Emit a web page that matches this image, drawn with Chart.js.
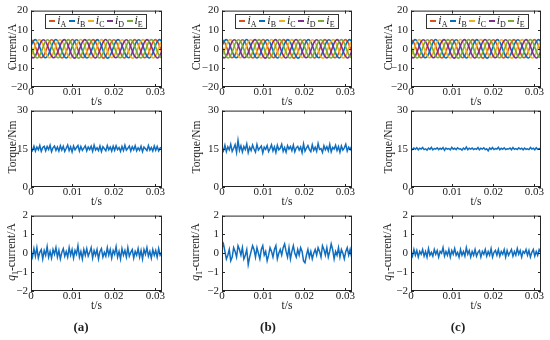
<!DOCTYPE html>
<html>
<head>
<meta charset="utf-8">
<script src="https://cdn.jsdelivr.net/npm/chart.js@4.4.0/dist/chart.umd.min.js"></script>
<style>
  body { margin:0; width:550px; height:340px; background:#fff; position:relative; overflow:hidden;
         font-family:'Liberation Serif','Times New Roman',serif; color:#222; }
  canvas, .lbl, .legend { position:absolute; }
  .lbl { font-size:11.5px; white-space:nowrap; line-height:1; }
  .ytitle { transform: translate(-50%,-50%) rotate(-90deg); }
  .xtitle { transform: translate(-50%,-50%); }
  .lbl sub { font-size:8px; }
  .legend { border:1px solid #333; background:#fff; font-size:12px; display:flex; align-items:center;
            justify-content:space-around; box-sizing:border-box; padding:0 2px; line-height:1; }
  .legend .sw { display:inline-block; width:6px; height:2px; margin-right:2px; vertical-align:middle; }
  .legend sub { font-size:8px; }
  .panel { font-size:13px; font-weight:bold; transform: translate(-50%,-50%); }
</style>
</head>
<body>
<script>
// ---- data ----
const phaseNames = ['A', 'B', 'C', 'D', 'E'];
const phaseColors = ['#D95319', '#0072BD', '#EDB120', '#7E2F8E', '#77AC30'];
const currentStep = 0.0005; // s between current samples
const xMax = 0.0316;

const iA = [4.8, 3.9, 1.5, -1.4, -3.9, -4.7, -3.8, -1.5, 1.4, 3.9,
            4.7, 3.8, 1.4, -1.5, -3.9, -4.8, -3.9, -1.4, 1.5, 3.8,
            4.9, 3.9, 1.5, -1.5, -3.8, -4.7, -3.9, -1.5, 1.4, 3.9,
            4.8, 3.8, 1.4, -1.4, -3.9, -4.9, -3.8, -1.5, 1.5, 3.9,
            4.7, 3.9, 1.5, -1.5, -3.8, -4.8, -3.9, -1.4, 1.4, 3.8,
            4.8, 3.9, 1.4, -1.5, -3.9, -4.7, -3.8, -1.5, 1.5, 3.9,
            4.8, 3.8, 1.5, -1.4];
const iB = [1.5, 3.8, 4.8, 3.9, 1.4, -1.5, -3.9, -4.7, -3.8, -1.5,
            1.4, 3.9, 4.9, 3.8, 1.5, -1.4, -3.8, -4.8, -3.9, -1.5,
            1.5, 3.9, 4.7, 3.9, 1.5, -1.5, -3.9, -4.8, -3.8, -1.4,
            1.5, 3.8, 4.8, 3.8, 1.4, -1.5, -3.9, -4.9, -3.9, -1.5,
            1.4, 3.9, 4.8, 3.9, 1.5, -1.4, -3.8, -4.7, -3.9, -1.5,
            1.5, 3.9, 4.7, 3.8, 1.5, -1.5, -3.9, -4.8, -3.8, -1.4,
            1.5, 3.9, 4.8, 3.9];
const iC = [-3.9, -1.4, 1.5, 3.9, 4.8, 3.8, 1.5, -1.5, -3.9, -4.7,
            -3.8, -1.5, 1.4, 3.9, 4.7, 3.9, 1.5, -1.4, -3.8, -4.8,
            -3.9, -1.5, 1.5, 3.8, 4.9, 3.9, 1.4, -1.5, -3.9, -4.8,
            -3.9, -1.4, 1.5, 3.9, 4.8, 3.8, 1.5, -1.5, -3.8, -4.7,
            -3.8, -1.5, 1.4, 3.9, 4.7, 3.9, 1.5, -1.4, -3.9, -4.9,
            -3.9, -1.5, 1.5, 3.8, 4.8, 3.9, 1.4, -1.5, -3.9, -4.8,
            -3.8, -1.5, 1.5, 3.9];
const iD = [-3.8, -4.8, -3.9, -1.5, 1.4, 3.9, 4.7, 3.9, 1.5, -1.4,
            -3.9, -4.7, -3.8, -1.4, 1.5, 3.8, 4.8, 3.9, 1.4, -1.5,
            -3.9, -4.9, -3.9, -1.5, 1.5, 3.9, 4.8, 3.8, 1.5, -1.5,
            -3.8, -4.8, -3.9, -1.4, 1.4, 3.9, 4.9, 3.9, 1.5, -1.4,
            -3.9, -4.7, -3.8, -1.5, 1.5, 3.8, 4.7, 3.9, 1.4, -1.5,
            -3.9, -4.8, -3.9, -1.5, 1.5, 3.9, 4.8, 3.8, 1.5, -1.5,
            -3.8, -4.8, -3.9, -1.4];
const iE = [1.4, -1.5, -3.9, -4.8, -3.8, -1.5, 1.5, 3.9, 4.7, 3.9,
            1.5, -1.4, -3.8, -4.7, -3.9, -1.5, 1.4, 3.8, 4.8, 3.8,
            1.5, -1.5, -3.9, -4.9, -3.9, -1.4, 1.5, 3.9, 4.8, 3.9,
            1.4, -1.5, -3.8, -4.8, -3.8, -1.5, 1.5, 3.9, 4.9, 3.8,
            1.5, -1.4, -3.9, -4.7, -3.9, -1.5, 1.4, 3.8, 4.7, 3.9,
            1.5, -1.5, -3.9, -4.8, -3.8, -1.5, 1.5, 3.9, 4.8, 3.9,
            1.4, -1.5, -3.8, -4.8];
const phaseCurrents = [iA, iB, iC, iD, iE];

const torqueA = [15.2, 14.3, 16.0, 14.1, 15.7, 14.6, 16.3, 14.0, 15.5, 16.0,
                 14.2, 15.9, 14.7, 16.4, 13.9, 15.4, 16.1, 14.4, 15.7, 14.1,
                 16.2, 14.5, 16.0, 14.0, 15.2, 16.5, 14.3, 15.8, 13.8, 16.1,
                 14.6, 15.5, 16.3, 14.1, 15.9, 14.4, 15.3, 16.2, 14.2, 15.7,
                 14.7, 16.0, 14.0, 16.4, 14.5, 15.4, 14.3, 16.1, 13.9, 15.8,
                 15.0, 14.2, 16.3, 14.6, 15.7, 14.1, 16.0, 14.4, 16.2, 14.7,
                 15.5, 14.0, 15.9, 14.3, 16.4, 14.5, 15.2, 16.1, 14.1, 15.8,
                 14.6, 16.2, 14.2, 15.4, 14.4, 16.0, 13.9, 15.7, 15.0, 14.3,
                 16.3, 14.5, 15.5, 14.1, 16.1, 14.4, 15.9, 14.2, 15.3, 15.6];
const torqueB = [15.5, 14.2, 16.4, 13.9, 15.8, 14.6, 16.8, 14.0, 15.2, 16.6,
                 13.6, 18.3, 14.4, 16.2, 13.8, 15.9, 14.7, 16.9, 13.5, 15.6,
                 14.3, 16.5, 14.9, 13.7, 16.7, 14.5, 15.3, 16.1, 13.4, 15.7,
                 14.8, 16.3, 13.9, 15.1, 16.6, 14.2, 15.8, 13.6, 16.4, 14.6,
                 15.2, 16.8, 14.0, 15.5, 13.7, 16.2, 14.9, 15.9, 14.3, 16.5,
                 13.8, 15.4, 16.0, 14.5, 15.7, 13.5, 16.9, 14.1, 15.3, 16.3,
                 14.7, 13.9, 16.6, 14.4, 15.6, 14.0, 17.1, 14.8, 15.1, 13.6,
                 16.2, 14.6, 15.8, 14.2, 16.7, 13.8, 15.5, 14.9, 16.4, 14.3,
                 15.9, 13.7, 16.1, 14.5, 15.4, 16.8, 14.1, 15.6, 14.7, 16.0];
const torqueC = [15.1, 14.7, 15.3, 14.8, 15.4, 14.6, 15.2, 14.9, 15.5, 14.7,
                 15.0, 14.5, 15.3, 14.8, 15.6, 14.6, 15.1, 14.9, 15.4, 14.7,
                 15.2, 14.8, 15.5, 14.4, 15.3, 14.9, 15.1, 14.6, 15.6, 14.8,
                 15.2, 14.7, 15.4, 14.9, 15.0, 14.5, 15.3, 14.8, 15.7, 14.6,
                 15.2, 14.9, 15.3, 14.7, 15.1, 14.8, 15.5, 14.6, 15.2, 14.9,
                 15.4, 14.7, 15.0, 14.2, 15.3, 14.8, 15.5, 14.7, 15.1, 14.9,
                 15.6, 14.6, 15.2, 14.8, 15.4, 14.7, 15.0, 14.9, 15.3, 14.6,
                 15.5, 14.8, 15.1, 14.7, 15.4, 14.9, 15.2, 14.6, 15.3, 14.8,
                 15.0, 14.7, 15.5, 14.9, 15.2, 14.6, 15.4, 14.8, 15.1, 15.0];

const qCurrentA = [0.1, -0.2, 0.25, -0.15, 0.3, -0.25, 0.05, 0.2, -0.3, 0.15,
                   -0.1, 0.35, -0.2, 0.1, -0.25, 0.2, -0.05, 0.3, -0.2, 0.15,
                   -0.3, 0.05, 0.25, -0.15, 0.1, -0.2, 0.3, -0.1, 0.2, -0.25,
                   0.15, -0.05, 0.4, -0.2, 0.1, -0.3, 0.2, -0.1, 0.25, -0.15,
                   0.05, 0.3, -0.25, 0.15, -0.1, 0.2, -0.3, 0.1, 0.25, -0.2,
                   0.05, -0.15, 0.3, -0.1, 0.2, -0.25, 0.15, -0.05, 0.35, -0.2,
                   0.1, -0.3, 0.25, -0.1, 0.15, -0.2, 0.3, -0.15, 0.05, 0.2,
                   -0.25, 0.1, -0.1, 0.25, -0.2, 0.15, -0.3, 0.2, -0.05, 0.3,
                   -0.15, 0.1, -0.25, 0.2, -0.1, 0.15, -0.2, 0.25, -0.1, 0.05];
const qCurrentB = [0.3, 0.5, 0.1, -0.3, -0.1, 0.2, -0.4, -0.2, 0.3, 0.1,
                   -0.2, 0.4, 0.2, -0.1, 0.3, -0.3, -0.1, 0.2, -0.6, -0.2,
                   0.1, 0.4, 0.2, -0.2, 0.3, 0.0, -0.3, 0.2, 0.4, -0.1,
                   0.1, -0.4, -0.1, 0.3, 0.1, -0.2, 0.2, 0.4, -0.3, 0.0,
                   0.2, -0.1, 0.3, 0.5, 0.1, -0.2, 0.3, -0.3, 0.1, 0.4,
                   0.0, -0.2, 0.2, -0.1, 0.3, 0.1, -0.4, -0.5, -0.1, 0.2,
                   -0.2, 0.1, -0.3, 0.0, 0.2, -0.1, 0.3, 0.1, -0.2, 0.4,
                   0.2, -0.1, 0.3, -0.2, 0.1, 0.5, 0.2, -0.3, 0.1, -0.1,
                   0.3, -0.2, 0.2, 0.0, -0.3, 0.1, 0.3, -0.1, 0.2, -0.2];
const qCurrentC = [0.05, -0.15, 0.2, -0.1, 0.15, -0.2, 0.1, -0.05, 0.2, -0.15,
                   0.1, -0.2, 0.25, -0.1, 0.05, -0.15, 0.2, -0.05, 0.15, -0.2,
                   0.1, 0.0, 0.3, -0.15, 0.1, -0.1, 0.2, -0.2, 0.15, -0.05,
                   0.25, -0.1, 0.05, -0.2, 0.2, -0.1, 0.1, -0.15, 0.3, -0.05,
                   0.15, -0.2, 0.1, -0.1, 0.2, -0.15, 0.05, 0.15, -0.2, 0.1,
                   -0.05, 0.2, -0.15, 0.1, -0.1, 0.25, -0.2, 0.05, 0.15, -0.1,
                   0.2, -0.15, 0.1, -0.05, 0.2, -0.2, 0.15, -0.1, 0.05, 0.2,
                   -0.15, 0.1, -0.1, 0.25, -0.05, 0.15, -0.2, 0.1, 0.0, 0.2,
                   -0.1, 0.15, -0.2, 0.05, 0.2, -0.15, 0.1, -0.1, 0.2, 0.05];

const xTicks = [0, 0.01, 0.02, 0.03];
const currentTicks = [-20, -10, 0, 10, 20];
const torqueTicks = [0, 15, 30];
const qTicks = [-2, -1, 0, 1, 2];
const panelNames = ['(a)', '(b)', '(c)'];
const torqueSets = [torqueA, torqueB, torqueC];
const qSets = [qCurrentA, qCurrentB, qCurrentC];

// ---- layout (plot boxes in page pixels) ----
const cols = [{ l: 31, r: 162, yt: 13, mid: 81 }, { l: 222, r: 352, yt: 197, mid: 268 }, { l: 411, r: 541, yt: 389, mid: 458 }];
const rows = [{ t: 7, b: 87 }, { t: 107, b: 187 }, { t: 212, b: 291 }];
const legendBoxes = [{ l: 45, r: 147 }, { l: 235, r: 339 }, { l: 426, r: 529 }];
const blue = '#106EC0';
const font = { family: 'Liberation Serif', size: 11 };

// box round the plot and inward tick marks, MATLAB style
const boxPlugin = {
    id: 'box',
    afterDraw(chart) {
        const { ctx, chartArea: a, scales } = chart;
        ctx.save();
        ctx.strokeStyle = '#262626';
        ctx.lineWidth = 1;
        ctx.strokeRect(a.left + 0.5, a.top + 0.5, a.right - a.left - 1, a.bottom - a.top - 1);
        ctx.beginPath();
        scales.x.ticks.forEach(t => {
            const px = Math.round(scales.x.getPixelForValue(t.value)) + 0.5;
            ctx.moveTo(px, a.bottom); ctx.lineTo(px, a.bottom - 3);
            ctx.moveTo(px, a.top); ctx.lineTo(px, a.top + 3);
        });
        scales.y.ticks.forEach(t => {
            const py = Math.round(scales.y.getPixelForValue(t.value)) + 0.5;
            ctx.moveTo(a.left, py); ctx.lineTo(a.left + 3, py);
            ctx.moveTo(a.right, py); ctx.lineTo(a.right - 3, py);
        });
        ctx.stroke();
        ctx.restore();
    }
};

function addLabel(html, x, y, cls) {
    const d = document.createElement('div');
    d.className = 'lbl ' + cls;
    d.style.left = x + 'px';
    d.style.top = y + 'px';
    d.innerHTML = html;
    document.body.appendChild(d);
}

function makePanel(col, row, datasets, yTicks) {
    const c = cols[col], r = rows[row];
    const padL = 30, padT = 6, padR = 10, padB = 14;
    const w = c.r - c.l + padL + padR, h = r.b - r.t + padT + padB;
    const canvas = document.createElement('canvas');
    canvas.width = w; canvas.height = h;
    canvas.style.left = (c.l - padL) + 'px';
    canvas.style.top = (r.t - padT) + 'px';
    canvas.style.width = w + 'px';
    canvas.style.height = h + 'px';
    document.body.appendChild(canvas);

    new Chart(canvas, {
        type: 'line',
        data: { datasets },
        options: {
            responsive: false,
            animation: false,
            devicePixelRatio: 1,
            layout: { padding: { left: 0, top: padT, right: padR, bottom: 0 } },
            plugins: { legend: { display: false }, tooltip: { enabled: false } },
            elements: { point: { radius: 0 } },
            scales: {
                x: {
                    type: 'linear', min: 0, max: xMax,
                    grid: { display: false, drawTicks: false }, border: { display: false },
                    afterBuildTicks: s => { s.ticks = xTicks.map(v => ({ value: v })); },
                    afterFit: s => { s.height = padB; },
                    ticks: { padding: -1, maxRotation: 0, autoSkip: false, color: '#222', font,
                             callback: v => v === 0 ? '0' : v.toFixed(2) }
                },
                y: {
                    min: yTicks[0], max: yTicks[yTicks.length - 1],
                    grid: { display: false, drawTicks: false }, border: { display: false },
                    afterBuildTicks: s => { s.ticks = yTicks.map(v => ({ value: v })); },
                    afterFit: s => { s.width = padL; },
                    ticks: { padding: 3, color: '#222', font,
                             callback: v => String(v).replace('-', '\u2212') }
                }
            }
        },
        plugins: [boxPlugin]
    });

    addLabel('t/s', (c.l + c.r) / 2, r.b + 15, 'xtitle');
}

function series(values, step) {
    return values.map((v, i) => ({ x: i * step, y: v }));
}

function noisyDataset(values) {
    return { data: series(values, 0.0315 / (values.length - 1)), borderColor: blue, borderWidth: 1.5 };
}

for (let col = 0; col < 3; col++) {
    // phase currents
    const currentDatasets = phaseCurrents.map((arr, i) => ({
        data: series(arr, currentStep),
        borderColor: phaseColors[i],
        borderWidth: 1.6,
        tension: 0.4,
        order: 5 - i
    }));
    makePanel(col, 0, currentDatasets, currentTicks);
    makePanel(col, 1, [noisyDataset(torqueSets[col])], torqueTicks);
    makePanel(col, 2, [noisyDataset(qSets[col])], qTicks);

    // y titles
    const c = cols[col];
    addLabel('Current/A', c.yt, (rows[0].t + rows[0].b) / 2, 'ytitle');
    addLabel('Torque/Nm', c.yt, (rows[1].t + rows[1].b) / 2, 'ytitle');
    addLabel('<i>q</i><sub>1</sub>-current/A', c.yt, (rows[2].t + rows[2].b) / 2, 'ytitle');

    // legend
    const lb = legendBoxes[col];
    const leg = document.createElement('div');
    leg.className = 'legend';
    leg.style.left = lb.l + 'px';
    leg.style.top = '14px';
    leg.style.width = (lb.r - lb.l) + 'px';
    leg.style.height = '15px';
    leg.innerHTML = phaseNames.map((n, i) =>
        `<span><span class="sw" style="background:${phaseColors[i]}"></span><i>i</i><sub>${n}</sub></span>`).join('');
    document.body.appendChild(leg);

    addLabel(panelNames[col], c.mid, 326, 'panel');
}
</script>
</body>
</html>
